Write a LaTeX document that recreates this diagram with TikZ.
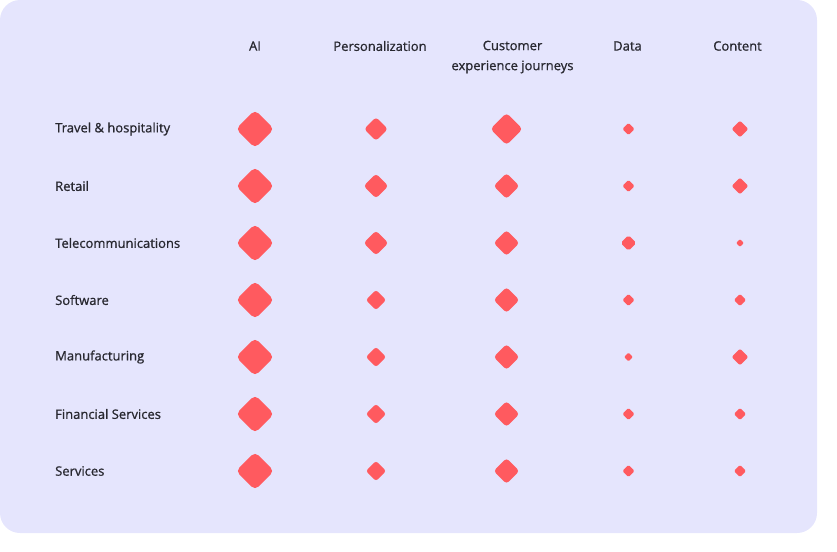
\documentclass[tikz,border=0pt]{standalone}
\usepackage{fontspec}
\setmainfont{Open Sans}[RawFeature={embolden=0.9}]
\usetikzlibrary{shapes.geometric}
\definecolor{bgcol}{RGB}{229,229,253}
\definecolor{dcol}{RGB}{255,90,95}
\definecolor{tcol}{RGB}{40,40,48}
\tikzset{
  dia/.style={diamond, fill=dcol, draw=none, inner sep=0pt, outer sep=0pt,
    minimum size={1.12*#1}, rounded corners={0.14*#1}},
  hdr/.style={text=tcol, font=\fontsize{13}{20}\selectfont, inner sep=0pt, align=center},
  rowlab/.style={text=tcol, font=\fontsize{13}{16}\selectfont, inner sep=0pt, anchor=west}
}
\begin{document}
\begin{tikzpicture}[x=1pt,y=-1pt]
\useasboundingbox (0,0) rectangle (837,551);
\fill[bgcol, rounded corners=20pt] (0,0) rectangle (817,533);
% headers
\node[hdr] (hAI) at (255,46) {AI};
\node[hdr] (hP) at (380,46) {Personalization};
\node[hdr] (hC) at (512.5,57) {Customer\\experience journeys};
\node[hdr] (hD) at (627.5,46) {Data};
\node[hdr] (hCt) at (737.5,46) {Content};
% row labels
\node[rowlab] (r1) at (55,129) {Travel \& hospitality};
\node[rowlab] (r2) at (55,186) {Retail};
\node[rowlab] (r3) at (55,243) {Telecommunications};
\node[rowlab] (r4) at (55,300) {Software};
\node[rowlab] (r5) at (55,357) {Manufacturing};
\node[rowlab] (r6) at (55,414) {Financial Services};
\node[rowlab] (r7) at (55,471) {Services};
% AI column
\foreach \r/\y in {1/129,2/186,3/243,4/300,5/357,6/414,7/471}
  \node[dia=34pt] (a\r) at (255,\y) {};
% Personalization
\node[dia=21pt] (p1) at (376,129) {};
\node[dia=22pt] (p2) at (376,186) {};
\node[dia=22pt] (p3) at (376,243) {};
\node[dia=18pt] (p4) at (376,300) {};
\node[dia=18pt] (p5) at (376,357) {};
\node[dia=18pt] (p6) at (376,414) {};
\node[dia=18pt] (p7) at (376,471) {};
% Customer experience journeys
\node[dia=29pt] (c1) at (506.5,129) {};
\node[dia=23pt] (c2) at (506.5,186) {};
\node[dia=23pt] (c3) at (506.5,243) {};
\node[dia=23pt] (c4) at (506.5,300) {};
\node[dia=23pt] (c5) at (506.5,357) {};
\node[dia=23pt] (c6) at (506.5,414) {};
\node[dia=23pt] (c7) at (506.5,471) {};
% Data
\node[dia=11pt] (da1) at (628.5,129) {};
\node[dia=11pt] (da2) at (628.5,186) {};
\node[dia=14pt] (da3) at (628.5,243) {};
\node[dia=11pt] (da4) at (628.5,300) {};
\node[dia=8pt] (da5) at (628.5,357) {};
\node[dia=11pt] (da6) at (628.5,414) {};
\node[dia=11pt] (da7) at (628.5,471) {};
% Content
\node[dia=15pt] (ct1) at (740,129) {};
\node[dia=15pt] (ct2) at (740,186) {};
\node[dia=7pt] (ct3) at (740,243) {};
\node[dia=11pt] (ct4) at (740,300) {};
\node[dia=15pt] (ct5) at (740,357) {};
\node[dia=11pt] (ct6) at (740,414) {};
\node[dia=11pt] (ct7) at (740,471) {};
\end{tikzpicture}
\end{document}
